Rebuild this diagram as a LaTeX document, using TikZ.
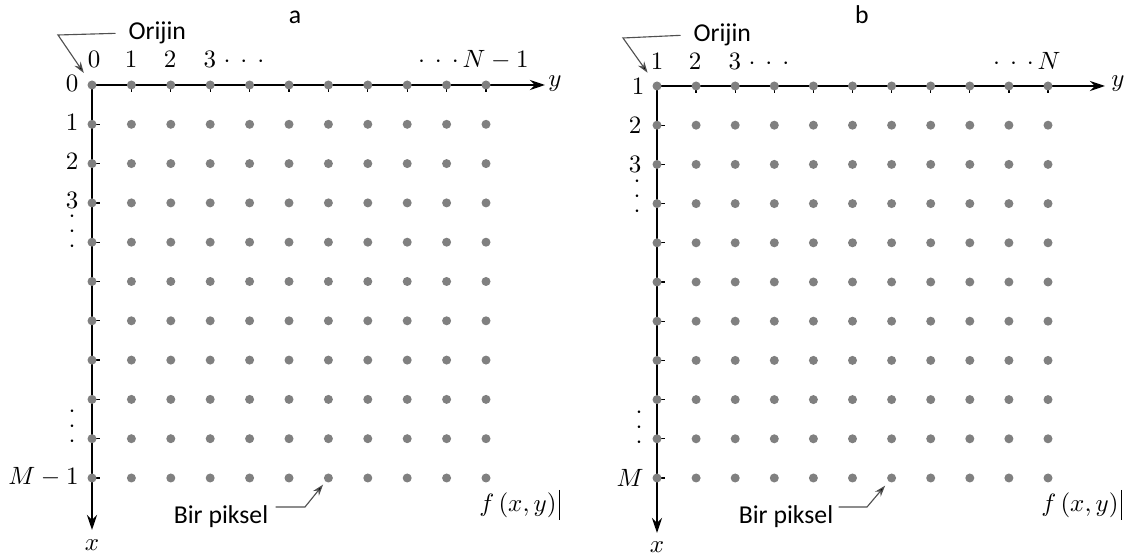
\documentclass[tikz,border=0pt]{standalone}
\usepackage{fontspec}
\newfontfamily\calib{Carlito}
\usetikzlibrary{arrows.meta,backgrounds}
\definecolor{dotgray}{RGB}{128,128,128}
\definecolor{leadgray}{RGB}{80,80,80}
\newcommand{\sdot}{\smash{$\cdot$}}
\begin{document}
\begin{tikzpicture}[x=0.4pt,y=-0.4pt,
  dot/.style={circle,fill=dotgray,inner sep=0pt,minimum size=3.6pt},
  axis/.style={line width=1pt,-{Stealth[length=6pt,width=4pt]}},
  tickmark/.style={line width=0.5pt},
  lead/.style={draw=leadgray,line width=0.45pt},
  leadarrow/.style={lead,-{Stealth[length=4.5pt,width=3pt,fill=black]}},
  num/.style={inner sep=0pt,font=\fontsize{10}{12}\selectfont},
  vdot/.style={inner sep=0pt,align=center,font=\fontsize{10}{6pt}\selectfont},
  sans/.style={inner sep=0pt,font=\calib\fontsize{10.3}{12}\selectfont}]
\useasboundingbox (0,0) rectangle (1126,558);

% ---------- panel a ----------
\foreach \r in {0,...,10}{
  \foreach \c in {0,...,10}{
    \node[dot] (a\r-\c) at ({92+39.4*\c},{85+39.3*\r}) {};
  }
}
\coordinate (ay) at (545,85);
\coordinate (ax) at (92,530);
\begin{scope}[on background layer]
  \draw[axis] (a0-0.center) -- (ay);
  \draw[axis] (a0-0.center) -- (ax);
  \foreach \c in {1,...,10}{ \draw[tickmark] (a0-\c.center) -- ++(0,7); }
  \foreach \r in {1,...,10}{ \draw[tickmark] (a\r-0.center) -- ++(8,0); }
\end{scope}
\node[num] (aylab) at (555,84) {$y$};
\node[num] (axlab) at (92,545) {$x$};
\node[sans,anchor=base] (atitle) at (295,24) {a};
% column labels
\node[num,anchor=base] (ac0) at (94,68) {$0$};
\node[num,anchor=base] (ac1) at (131,68) {$1$};
\node[num,anchor=base] (ac2) at (170,68) {$2$};
\node[num,anchor=base west] (ac3) at (203,68) {$3$\hspace{3pt}$\cdot$\hspace{4pt}$\cdot$\hspace{4pt}$\cdot$};
\node[num,anchor=base east] (acN) at (529,68) {$\cdot$\hspace{4pt}$\cdot$\hspace{4pt}$\cdot$\hspace{1.5pt}$N-1$};
% row labels
\node[num] (ar0) at (72,83) {$0$};
\node[num] (ar1) at (72,122) {$1$};
\node[num] (ar2) at (72,161) {$2$};
\node[num] (ar3) at (72,200) {$3$};
\node[vdot] (avd1) at (72,238) {\sdot\\\sdot\\\sdot};
\node[vdot] (avd2) at (72,433) {\sdot\\\sdot\\\sdot};
\node[num,anchor=east] (arM) at (79,477) {$M-1$};
% origin label
\node[sans,anchor=base west] (aor) at (128,40) {Orijin};
\coordinate (aorb) at (58,35);
\draw[leadarrow,shorten >=3.8pt] ([xshift=-5pt]aor.west) -- (aorb) -- (a0-0);
% pixel label
\node[sans] (apx) at (221,517) {Bir piksel};
\coordinate (apxb) at (305,507);
\draw[leadarrow,shorten >=1.4pt] ([shift={(7,-10)}]apx.east) -- (apxb) -- (a10-6);
% f(x,y)
\node[num,anchor=east] (af) at (557,505) {$f\,(x,y)$};
\draw[line width=0.6pt] ([xshift=1pt]af.east) ++(0,-15) -- ++(0,30);

% ---------- panel b ----------
\foreach \r in {0,...,10}{
  \foreach \c in {0,...,10}{
    \node[dot] (b\r-\c) at ({657+39.1*\c},{86+39.2*\r}) {};
  }
}
\coordinate (by) at (1105,86);
\coordinate (bx) at (657,533);
\begin{scope}[on background layer]
  \draw[axis] (b0-0.center) -- (by);
  \draw[axis] (b0-0.center) -- (bx);
  \foreach \c in {1,...,10}{ \draw[tickmark] (b0-\c.center) -- ++(0,7); }
  \foreach \r in {1,...,10}{ \draw[tickmark] (b\r-0.center) -- ++(8,0); }
\end{scope}
\node[num] (bylab) at (1118,84) {$y$};
\node[num] (bxlab) at (657,547) {$x$};
\node[sans,anchor=base] (btitle) at (862,24) {b};
% column labels
\node[num,anchor=base] (bc1) at (657,70) {$1$};
\node[num,anchor=base] (bc2) at (695,70) {$2$};
\node[num,anchor=base west] (bc3) at (728,70) {$3$\hspace{3pt}$\cdot$\hspace{4pt}$\cdot$\hspace{4pt}$\cdot$};
\node[num,anchor=base east] (bcN) at (1061,70) {$\cdot$\hspace{4pt}$\cdot$\hspace{4pt}$\cdot$\hspace{1.5pt}$N$};
% row labels
\node[num] (br1) at (638,86) {$1$};
\node[num] (br2) at (635,125) {$2$};
\node[num] (br3) at (635,164) {$3$};
\node[vdot] (bvd1) at (637,203) {\sdot\\\sdot\\\sdot};
\node[vdot] (bvd2) at (639,434) {\sdot\\\sdot\\\sdot};
\node[num,anchor=east] (brM) at (644,478) {$M$};
% origin label
\node[sans,anchor=base west] (bor) at (693,42) {Orijin};
\coordinate (borb) at (623,38);
\draw[leadarrow,shorten >=4.5pt] ([xshift=-5pt]bor.west) -- (borb) -- (b0-0);
% pixel label
\node[sans] (bpx) at (786,517) {Bir piksel};
\coordinate (bpxb) at (867,507);
\draw[leadarrow,shorten >=2pt] ([shift={(5,-10)}]bpx.east) -- (bpxb) -- (b10-6);
% f(x,y)
\node[num,anchor=east] (bf) at (1119,505) {$f\,(x,y)$};
\draw[line width=0.6pt] ([xshift=1pt]bf.east) ++(0,-15) -- ++(0,30);
\end{tikzpicture}
\end{document}
